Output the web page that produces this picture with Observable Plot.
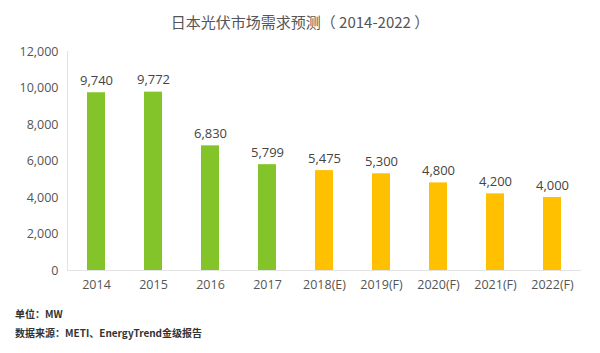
<!DOCTYPE html>
<html><head><meta charset="utf-8">
<script src="https://cdn.jsdelivr.net/npm/d3@7"></script>
<script src="https://cdn.jsdelivr.net/npm/@observablehq/plot@0.6"></script>
<style>
body{margin:0;background:#fff;font-family:"Open Sans","Noto Sans CJK SC",sans-serif;}
#wrap{position:relative;width:600px;height:353px;}
#title{position:absolute;left:0;top:11px;width:600px;text-align:center;font-size:15px;color:#555;font-family:"Noto Sans CJK SC","Open Sans",sans-serif;}
.foot{position:absolute;left:15px;font-size:10px;color:#333;font-weight:bold;font-family:"Noto Sans CJK SC",sans-serif;}
</style></head>
<body><div id="wrap">
<div id="title">日本光伏市场需求预测（ 2014-2022 ）</div>
<div id="chart"></div>
<div class="foot" style="top:306px">单位：MW</div>
<div class="foot" style="top:325px">数据来源：METI、EnergyTrend金级报告</div>
</div>
<script>
const years = ["2014","2015","2016","2017","2018(E)","2019(F)","2020(F)","2021(F)","2022(F)"];
const values = [9740,9772,6830,5799,5475,5300,4800,4200,4000];
const kinds = ["actual","actual","actual","actual","forecast","forecast","forecast","forecast","forecast"];
const yTicks = [0,2000,4000,6000,8000,10000,12000];
const data = years.map((y,i)=>({year:y,value:values[i],kind:kinds[i]}));
const chart = Plot.plot({
  width:600,height:353,
  marginTop:51,marginBottom:83,marginLeft:67,marginRight:19,
  style:{fontFamily:"'Open Sans',sans-serif",fontSize:"12.5px",color:"#555",background:"transparent"},
  x:{domain:years,paddingInner:0.68,paddingOuter:0.34,label:null,tickSize:0,tickPadding:10},
  y:{domain:[0,12000],ticks:yTicks,tickFormat:d3.format(","),label:null,tickSize:0,tickPadding:9},
  color:{domain:["actual","forecast"],range:["#84c42b","#ffc000"]},
  marks:[
    Plot.frame({anchor:"left",stroke:"#e3e3e3"}),
    Plot.ruleY([0],{stroke:"#e3e3e3"}),
    Plot.barY(data,{x:"year",y:"value",fill:"kind"}),
    Plot.text(data,{x:"year",y:"value",text:d=>d3.format(",")(d.value),dy:-12,fill:"#444",fontSize:13})
  ]
});
document.getElementById("chart").appendChild(chart);
</script>
</body></html>
